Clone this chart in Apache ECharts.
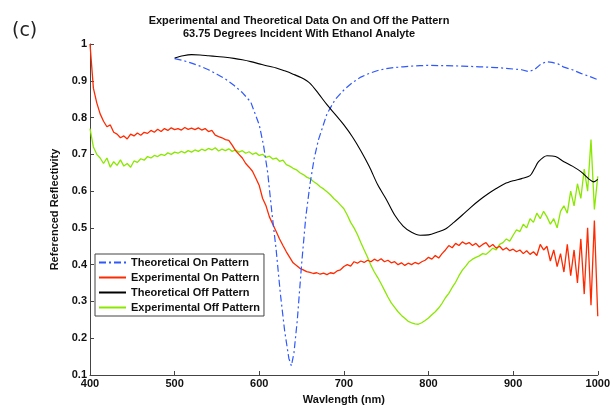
<!DOCTYPE html>
<html><head><meta charset="utf-8">
<script src="https://cdn.jsdelivr.net/npm/echarts@6/dist/echarts.min.js"></script>
<style>html,body{margin:0;padding:0;background:#fff}#c{width:613px;height:410px}</style>
</head><body><div id="c"></div>
<script>
const seriesNames = ['Theoretical On Pattern','Experimental On Pattern','Theoretical Off Pattern','Experimental Off Pattern'];
const xTicks = [400,500,600,700,800,900,1000];
const yTicks = [0.1,0.2,0.3,0.4,0.5,0.6,0.7,0.8,0.9,1];

const theoOnX = [500,510,520,530,540,550,560,570,580,590,600,605,610,615,620,625,630,635,638,641,645,650,655,660,665,670,680,690,700,710,720,730,740,750,760,770,780,790,800,820,840,860,880,900,910,918,925,932,939,946,953,960,970,980,990,1000];
const theoOnY = [0.96,0.955,0.948,0.94,0.93,0.918,0.905,0.888,0.868,0.842,0.78,0.725,0.65,0.54,0.44,0.32,0.22,0.145,0.125,0.16,0.25,0.4,0.53,0.62,0.69,0.74,0.81,0.85,0.875,0.895,0.91,0.92,0.928,0.933,0.936,0.938,0.94,0.941,0.942,0.941,0.94,0.938,0.936,0.932,0.93,0.925,0.93,0.944,0.952,0.95,0.946,0.937,0.93,0.92,0.912,0.903];

const theoOffX = [500,510,520,530,540,550,560,570,580,590,600,610,620,630,640,650,660,670,680,690,700,710,720,730,740,750,760,770,780,790,800,810,820,830,840,850,860,870,880,890,900,910,920,925,930,940,950,960,970,980,990,995,1000];
const theoOffY = [0.962,0.968,0.971,0.97,0.968,0.966,0.964,0.961,0.957,0.952,0.946,0.94,0.935,0.927,0.918,0.908,0.893,0.865,0.835,0.808,0.78,0.748,0.71,0.667,0.617,0.578,0.535,0.505,0.488,0.48,0.481,0.488,0.497,0.515,0.535,0.556,0.575,0.592,0.607,0.62,0.628,0.634,0.642,0.66,0.68,0.696,0.694,0.68,0.668,0.653,0.632,0.625,0.632];

const expStart = 400, expStep = 4;
const expOn = [1.00,0.88,0.84,0.81,0.79,0.775,0.78,0.76,0.755,0.745,
0.75,0.742,0.755,0.75,0.758,0.752,0.76,0.757,0.765,0.76,
0.768,0.762,0.77,0.765,0.772,0.767,0.77,0.766,0.773,0.768,
0.771,0.767,0.772,0.766,0.77,0.762,0.765,0.752,0.748,0.745,
0.74,0.738,0.725,0.71,0.7,0.69,0.675,0.665,0.654,0.635,
0.615,0.58,0.56,0.53,0.51,0.49,0.47,0.452,0.435,0.42,
0.405,0.398,0.39,0.386,0.381,0.379,0.376,0.378,0.374,0.377,
0.373,0.378,0.376,0.383,0.386,0.395,0.4,0.396,0.408,0.404,
0.41,0.406,0.412,0.408,0.415,0.41,0.416,0.408,0.412,0.405,
0.408,0.4,0.405,0.398,0.404,0.4,0.406,0.402,0.408,0.412,
0.42,0.415,0.425,0.418,0.43,0.44,0.452,0.446,0.458,0.452,
0.462,0.456,0.46,0.452,0.458,0.448,0.455,0.46,0.448,0.455,
0.445,0.45,0.44,0.446,0.438,0.442,0.435,0.44,0.43,0.438,
0.428,0.435,0.425,0.455,0.44,0.45,0.41,0.44,0.395,0.43,
0.38,0.455,0.37,0.44,0.35,0.47,0.32,0.5,0.29,0.52,
0.26];
const expOff = [0.77,0.72,0.7,0.69,0.675,0.69,0.665,0.68,0.67,0.685,
0.668,0.675,0.665,0.682,0.678,0.688,0.684,0.694,0.69,0.697,
0.694,0.7,0.697,0.704,0.7,0.706,0.703,0.708,0.704,0.71,
0.706,0.712,0.708,0.714,0.71,0.716,0.712,0.718,0.709,0.714,
0.71,0.715,0.708,0.712,0.706,0.71,0.703,0.707,0.7,0.704,
0.697,0.7,0.692,0.695,0.687,0.69,0.681,0.684,0.672,0.668,
0.662,0.658,0.65,0.645,0.638,0.634,0.626,0.62,0.612,0.606,
0.598,0.59,0.58,0.572,0.562,0.552,0.535,0.515,0.5,0.482,
0.46,0.44,0.42,0.398,0.38,0.365,0.348,0.33,0.312,0.296,
0.284,0.272,0.262,0.254,0.246,0.242,0.239,0.238,0.242,0.248,
0.255,0.264,0.272,0.282,0.295,0.31,0.322,0.338,0.352,0.37,
0.385,0.396,0.408,0.415,0.42,0.424,0.43,0.428,0.436,0.445,
0.44,0.455,0.46,0.47,0.464,0.48,0.495,0.49,0.51,0.5,
0.525,0.515,0.54,0.525,0.545,0.53,0.51,0.525,0.5,0.545,
0.56,0.54,0.6,0.56,0.62,0.58,0.66,0.6,0.74,0.55,
0.64];

const zip = (xs, ys) => xs.map((x, i) => [x, ys[i]]);
const grid = ys => ys.map((y, i) => [expStart + i * expStep, y]);
const FONT = '"Liberation Sans", Arial, sans-serif';

const chart = echarts.init(document.getElementById('c'), null, {renderer: 'canvas'});
chart.setOption({
  animation: false,
  backgroundColor: '#fff',
  title: [
    {text: 'Experimental and Theoretical Data On and Off the Pattern\n63.75 Degrees Incident With Ethanol Analyte',
     left: 294, top: 9, textAlign: 'center',
     textStyle: {fontFamily: FONT, fontSize: 11, fontWeight: 'bold', color: '#111', lineHeight: 13.5}},
    {text: '(c)', left: 7, top: 17,
     textStyle: {fontFamily: '"DejaVu Sans", sans-serif', fontSize: 19, fontWeight: 'normal', color: '#222'}}
  ],
  grid: {left: 90, right: 13, top: 44, bottom: 30, containLabel: false},
  legend: {
    orient: 'vertical', left: 95, top: 254,
    data: seriesNames,
    itemWidth: 27, itemHeight: 14, itemGap: 0,
    borderColor: '#444', borderWidth: 1, padding: [1, 4, 1, 3],
    backgroundColor: '#fff',
    itemStyle: {opacity: 0},
    textStyle: {fontFamily: FONT, fontSize: 11, fontWeight: 'bold', color: '#111', lineHeight: 15, height: 15}
  },
  xAxis: {
    type: 'value', min: 400, max: 1000, interval: 100,
    name: 'Wavlength (nm)', nameLocation: 'middle', nameGap: 19,
    nameTextStyle: {fontFamily: FONT, fontSize: 11, fontWeight: 'bold', color: '#111'},
    axisLine: {show: true, lineStyle: {color: '#444', width: 1}},
    axisTick: {show: true, inside: true, length: 4, lineStyle: {color: '#444'}},
    axisLabel: {fontFamily: FONT, fontSize: 11, fontWeight: 'bold', color: '#111', margin: 3,
      formatter: v => xTicks.includes(v) ? String(v) : ''},
    splitLine: {show: false}
  },
  yAxis: {
    type: 'value', min: 0.1, max: 1, interval: 0.1,
    name: 'Referenced Reflectivity', nameLocation: 'middle', nameGap: 17,
    nameTextStyle: {fontFamily: FONT, fontSize: 11, fontWeight: 'bold', color: '#111'},
    axisLine: {show: true, lineStyle: {color: '#444', width: 1}},
    axisTick: {show: true, inside: true, length: 4, lineStyle: {color: '#444'}},
    axisLabel: {fontFamily: FONT, fontSize: 11, fontWeight: 'bold', color: '#111', margin: 3,
      formatter: v => { const r = Math.round(v * 10) / 10; return yTicks.includes(r) ? String(r) : ''; }},
    splitLine: {show: false}
  },
  series: [
    {name: seriesNames[0], type: 'line', data: zip(theoOnX, theoOnY), symbol: 'none', z: 3,
     lineStyle: {color: '#2f58ff', width: 1.2, type: [7, 3, 2, 3]}, itemStyle: {color: '#2f58ff'}},
    {name: seriesNames[1], type: 'line', data: grid(expOn), symbol: 'none', z: 2,
     lineStyle: {color: '#ff2a00', width: 1.3}, itemStyle: {color: '#ff2a00'}},
    {name: seriesNames[2], type: 'line', data: zip(theoOffX, theoOffY), symbol: 'none', smooth: 0.3, z: 4,
     lineStyle: {color: '#000', width: 1.1}, itemStyle: {color: '#000'}},
    {name: seriesNames[3], type: 'line', data: grid(expOff), symbol: 'none', z: 1,
     lineStyle: {color: '#8ae800', width: 1.3}, itemStyle: {color: '#8ae800'}}
  ]
});
</script></body></html>
